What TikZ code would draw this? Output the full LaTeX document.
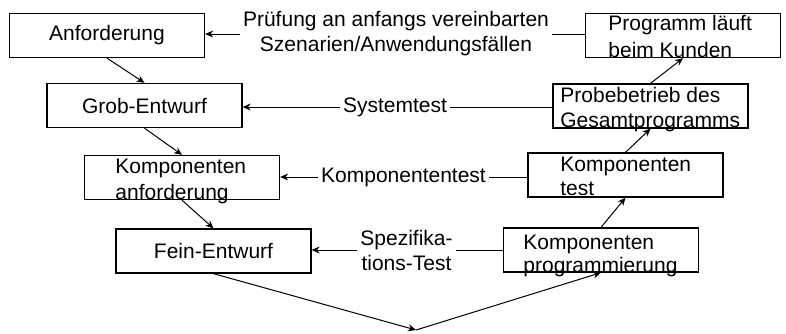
\documentclass[tikz,border=0pt]{standalone}
\usepackage{fontspec}
\setmainfont{Liberation Sans}
\usetikzlibrary{arrows.meta}

\begin{document}
\begin{tikzpicture}[x=0.5pt,y=-0.5pt,
  kasten/.style={draw,line width=0.65pt,minimum width=97.5pt,minimum height=22pt,inner sep=0pt,font=\fontsize{10.5}{12.5}\selectfont},
  zeilen/.style={anchor=north west,align=left,inner sep=0pt,font=\fontsize{10.5}{12.5}\selectfont},
  pruefung/.style={align=center,inner sep=1.5pt,font=\fontsize{10.5}{12.5}\selectfont},
  pfeil/.style={-{Stealth[length=4pt,width=3.5pt]},line width=0.5pt},
  linie/.style={line width=0.5pt}]
\useasboundingbox (0,0) rectangle (786,333);
\node[kasten] (anf) at (107,35.5) {Anforderung};
\node[kasten] (grob) at (144.5,105.5) {Grob-Entwurf};
\node[kasten] (kanf) at (182,177.5) {};
\node[kasten] (fein) at (213.5,251) {Fein-Entwurf};
\node[kasten] (kunde) at (683,35.5) {};
\node[kasten] (probe) at (650.5,106) {};
\node[kasten] (ktest) at (625.5,175) {};
\node[kasten] (kprog) at (601,250) {};
\node[zeilen,font=\fontsize{10.5}{13.5}\selectfont] (kundetxt) at (608,15) {Programm läuft\\beim Kunden};
\node[zeilen] (probetxt) at (560,87) {Probebetrieb des\\Gesamtprogramms};
\node[zeilen,font=\fontsize{10.5}{12}\selectfont] (ktesttxt) at (560,157) {Komponenten\\test};
\node[zeilen,font=\fontsize{10.5}{11.5}\selectfont] (kprogtxt) at (523,235) {Komponenten\\programmierung};
\node[zeilen,font=\fontsize{10.5}{13}\selectfont] (kanftxt) at (115,159) {Komponenten\\anforderung};
\node[pruefung] (szen) at (396,34) {Prüfung an anfangs vereinbarten\\Szenarien/Anwendungsfällen};
\node[pruefung] (sys) at (395,107) {Systemtest};
\node[pruefung] (ktl) at (403.5,177) {Komponententest};
\node[pruefung] (spez) at (406.5,250) {Spezifika-\\tions-Test};
\coordinate (spitze) at (416,330);
\draw[pfeil] (szen.west) -- (szen.west -| anf.east);
\draw[linie] (szen.east) -- (szen.east -| kunde.west);
\draw[pfeil] (sys.west) -- (sys.west -| grob.east);
\draw[linie] (sys.east) -- (sys.east -| probe.west);
\draw[pfeil] (ktl.west) -- (ktl.west -| kanf.east);
\draw[linie] (ktl.east) -- (ktl.east -| ktest.west);
\draw[pfeil] (spez.west) -- (spez.west -| fein.east);
\draw[linie] (spez.east) -- (spez.east -| kprog.west);
\draw[pfeil] (anf.south) -- (grob.north);
\draw[pfeil] (grob.south) -- (kanf.north);
\draw[pfeil] (kanf.south) -- (fein.north);
\draw[pfeil] (fein.south) -- (spitze);
\draw[pfeil] (spitze) -- (kprog.south);
\draw[pfeil] (kprog.north) -- (ktest.south);
\draw[pfeil] (ktest.north) -- (probe.south);
\draw[pfeil] (probe.north) -- (kunde.south);
\end{tikzpicture}
\end{document}
